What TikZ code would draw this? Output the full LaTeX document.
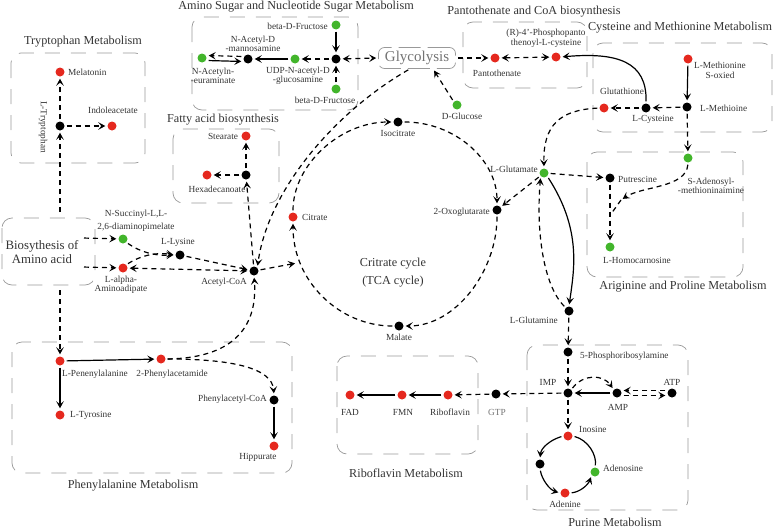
\documentclass[tikz,border=0pt]{standalone}
\usepackage{fontspec}
\setmainfont{Liberation Serif}
\usetikzlibrary{arrows.meta}
\definecolor{dotred}{RGB}{229,40,30}
\definecolor{dotgreen}{RGB}{66,181,43}

\begin{document}
\begin{tikzpicture}[x=1pt,y=-1pt]
\tikzstyle{every node}=[text=black!80,font=\fontsize{9.3}{9}\selectfont,inner sep=1pt];
\tikzstyle{metR}=[circle,fill=dotred,minimum size=9pt,inner sep=0pt];
\tikzstyle{metG}=[circle,fill=dotgreen,minimum size=9pt,inner sep=0pt];
\tikzstyle{metB}=[circle,fill=black,minimum size=9pt,inner sep=0pt];
\tikzstyle{ttl}=[font=\fontsize{12.2}{14}\selectfont];
\tikzstyle{grp}=[draw=black!40,line width=0.7pt,dash pattern=on 15pt off 11pt,rounded corners=10pt];
\tikzstyle{dsh}=[line width=1.2pt,dash pattern=on 5pt off 4pt,shorten >=2pt,shorten <=2pt,-{Stealth[length=7pt,width=7.5pt,inset=3pt]}];
\tikzstyle{sld}=[line width=1.2pt,shorten >=2pt,shorten <=2pt,-{Stealth[length=7pt,width=7.5pt,inset=3pt]}];
\tikzstyle{dbl}=[dsh,{Stealth[length=7pt,width=7.5pt,inset=3pt]}-{Stealth[length=7pt,width=7.5pt,inset=3pt]}];

\useasboundingbox (0,0) rectangle (778,530);

\draw[grp] (11,53) rectangle (145,163);
\draw[grp] (192,17) rectangle (358,110);
\draw[grp] (463,22) rectangle (587,88);
\draw[grp] (593,43) rectangle (772,132);
\draw[grp] (173,129) rectangle (279,203);
\draw[grp] (2,218) rectangle (95,285);
\draw[grp] (587,152) rectangle (743,277);
\draw[grp] (12,342) rectangle (292,473);
\draw[grp] (337,356) rectangle (478,454);
\draw[grp] (527,345) rectangle (688,510);

\node[ttl] at (83,42) {Tryptophan Metabolism};
\node[ttl] at (296,7) {Amino Sugar and Nucleotide Sugar Metabolism};
\node[ttl] at (534,12) {Pantothenate and CoA biosynthesis};
\node[ttl] at (680,28) {Cysteine and Methionine Metabolism};
\node[ttl] at (223,120) {Fatty acid biosynthesis};
\node[ttl] at (683,287) {Ariginine and Proline Metabolism};
\node[ttl] at (133,486) {Phenylalanine Metabolism};
\node[ttl] at (406,473) {Riboflavin Metabolism};
\node[ttl] at (615,522) {Purine Metabolism};
\node[align=center,font=\fontsize{12.8}{13.5}\selectfont] at (42,252) {Biosythesis of\\Amino acid};
\node[align=center,font=\fontsize{12.2}{18}\selectfont] at (393,273) {Critrate cycle\\(TCA cycle)};
\node (gly) [draw=black!40,line width=0.7pt,dash pattern=on 22pt off 7pt,rounded corners=6pt,minimum width=77pt,minimum height=21pt,text=black!55,font=\fontsize{15}{16}\selectfont] at (417,58) {Glycolysis};

\node (mel) [metR] at (60,72) {};
\node (trp) [metB] at (60,126) {};
\node (iaa) [metR] at (112,126) {};
\node (neu) [metG] at (202,58) {};
\node (man) [metB] at (248,59) {};
\node (udp) [metG] at (295,59) {};
\node (asc) [metB] at (336,59) {};
\node (frt) [metG] at (336,25) {};
\node (frb) [metG] at (336,89) {};
\node (pan) [metR] at (495,58) {};
\node (rpc) [metR] at (556,57) {};
\node (mso) [metR] at (688,59) {};
\node (met) [metB] at (687,107) {};
\node (cys) [metB] at (646,108) {};
\node (gsh) [metR] at (604,108) {};
\node (ste) [metR] at (246,136) {};
\node (hxb) [metB] at (246,175) {};
\node (hxr) [metR] at (207,175) {};
\node (suc) [metG] at (123,239) {};
\node (aad) [metR] at (123,268) {};
\node (lys) [metB] at (180,255) {};
\node (aco) [metB] at (254,271) {};
\node (cit) [metR] at (293,217) {};
\node (ict) [metB] at (398,122) {};
\node (oxg) [metB] at (497,210) {};
\node (mal) [metB] at (399,326) {};
\node (glc) [metG] at (457,105) {};
\node (glu) [metG] at (544,173) {};
\node (put) [metB] at (610,178) {};
\node (sam) [metG] at (688,158) {};
\node (hcn) [metG] at (610,247) {};
\node (gln) [metB] at (569,311) {};
\node (pra) [metB] at (568,352) {};
\node (imp) [metB] at (568,393) {};
\node (amp) [metB] at (617,393) {};
\node (atp) [metB] at (672,393) {};
\node (ino) [metR] at (568,436) {};
\node (ads) [metG] at (595,472) {};
\node (ade) [metR] at (565,493) {};
\node (unk) [metB] at (540,464) {};
\node (gtp) [metB] at (496,394) {};
\node (rib) [metR] at (448,395) {};
\node (fmn) [metR] at (402,395) {};
\node (fad) [metR] at (350,395) {};
\node (phe) [metR] at (60,361) {};
\node (pam) [metR] at (161,359) {};
\node (tyr) [metR] at (60,415) {};
\node (pac) [metB] at (274,400) {};
\node (hip) [metR] at (274,446) {};

\node[anchor=west] at (67,72) {Melatonin};
\node[rotate=-90] at (43,127) {L-Tryptophan};
\node at (113,110) {Indoleacetate};
\node[align=center] at (213,76) {N-Acetyln-\\-euraminate};
\node[align=center] at (253,44) {N-Acetyl-D\\-mannosamine};
\node[align=center] at (298,76) {UDP-N-acetyl-D\\-glucosamine};
\node[anchor=east] at (329,26) {beta-D-Fructose};
\node at (325,100) {beta-D-Fructose};
\node at (497,73) {Pantothenate};
\node[align=center,font=\fontsize{9.3}{10}\selectfont] at (546,38) {(R)-4'-Phosphopanto\\thenoyl-L-cysteine};
\node[align=center,font=\fontsize{9.3}{10}\selectfont] at (720,70) {L-Methionine\\S-oxied};
\node[anchor=west] at (699,108) {L-Methioine};
\node at (653,119) {L-Cysteine};
\node at (622,91) {Glutathione};
\node at (223,136) {Stearate};
\node at (217,189) {Hexadecanoate};
\node[anchor=west] at (301,217) {Citrate};
\node[align=center,font=\fontsize{9.3}{12.5}\selectfont] at (136,221) {N-Succinyl-L,L-\\2,6-diaminopimelate};
\node[align=center] at (121,285) {L-alpha-\\Aminoadipate};
\node at (178,242) {L-Lysine};
\node at (224,282) {Acetyl-CoA};
\node at (398,133) {Isocitrate};
\node[anchor=east] at (491,212) {2-Oxoglutarate};
\node at (399,337) {Malate};
\node at (462,116) {D-Glucose};
\node[anchor=east] at (539,169) {L-Glutamate};
\node[anchor=west] at (617,179) {Putrescine};
\node[align=center,font=\fontsize{9.3}{8.5}\selectfont] at (711,186) {S-Adenosyl-\\-methioninaimine};
\node at (637,260) {L-Homocarnosine};
\node[anchor=east] at (559,320) {L-Glutamine};
\node[anchor=west] at (579,356) {5-Phosphoribosylamine};
\node at (548,382) {IMP};
\node at (618,407) {AMP};
\node at (672,382) {ATP};
\node[anchor=west] at (578,429) {Inosine};
\node[anchor=west] at (602,468) {Adenosine};
\node at (565,504) {Adenine};
\node[text=black!55] at (497,412) {GTP};
\node at (450,412) {Riboflavin};
\node at (403,412) {FMN};
\node at (350,412) {FAD};
\node at (95,374) {L-Penenylalanine};
\node at (172,374) {2-Phenylacetamide};
\node[anchor=west] at (69,415) {L-Tyrosine};
\node[anchor=east] at (268,399) {Phenylacetyl-CoA};
\node at (258,457) {Hippurate};

\coordinate (bt) at (60,214);
\coordinate (bb) at (60,288);
\coordinate (b1) at (82,238);
\coordinate (b2) at (82,267);
\coordinate (cj) at (297,263);
\coordinate (sj) at (621,200);

\draw[dsh] (bt) -- (trp);
\draw[dsh] (trp) -- (mel);
\draw[dsh] (trp) -- (iaa);
\draw[sld] (frt) -- (asc);
\draw[dsh] (frb) -- (asc);
\draw[dsh] (asc) -- (udp);
\draw[sld] (udp) -- (man);
\draw[dsh] ([yshift=2.5pt]man.west) -- ([yshift=2.5pt]neu.east);
\draw[sld] ([yshift=-2.5pt]neu.east) -- ([yshift=-2.5pt]man.west);
\draw[dbl] (asc) -- (gly.west);
\draw[dsh] (gly.east) -- (pan);
\draw[dbl] (pan) -- (rpc);
\draw[sld] (cys.north) .. controls (647,62) and (618,52) .. (rpc.east);
\draw[dsh] (glc.north west) -- ([xshift=16pt]gly.south);
\draw[dsh] ([xshift=-7pt]gly.south) .. controls (335,112) and (268,190) .. (aco.north east);
\draw[sld] (mso) -- (met);
\draw[dsh] (met) -- (cys);
\draw[dsh] (cys) -- (gsh);
\draw[dsh] (met) -- (sam);
\draw[dsh] (gsh.west) .. controls (560,110) and (543,125) .. (glu.north);
\draw[dsh] (hxb) -- (ste);
\draw[dsh] (hxb) -- (hxr);
\draw[dsh] (aco) -- (hxb);
\draw[dsh] (b1) -- (suc);
\draw[dsh] (b2) -- (aad);
\draw[dsh] (suc.south east) .. controls (140,252) and (155,256) .. (lys.west);
\draw[dsh] (aad.north east) .. controls (140,256) and (155,252) .. (lys.west);
\draw[dbl] (aad) -- (aco);
\draw[dsh] (lys) -- (aco);
\draw[dsh] (aco) -- (cj);
\draw[dsh] (bb) -- (phe);
\draw[dsh] (cit.north) .. controls (293,165) and (340,122) .. (ict.west);
\draw[dsh] (ict.east) .. controls (455,122) and (497,160) .. (oxg.north);
\draw[dsh] (oxg.south) .. controls (497,272) and (455,326) .. (mal.east);
\draw[dsh] (mal.west) .. controls (340,326) and (293,282) .. (cit.south);
\draw[dsh] (glu) -- (put);
\draw[dsh] (glu) -- (oxg);
\draw[dsh] (put) -- (hcn);
\draw[dsh] (sam.south) .. controls (686,188) and (642,186) .. (sj);
\draw[line width=1.2pt,dash pattern=on 5pt off 4pt] (sj) -- (611,214);
\draw[sld] (glu.south east) .. controls (582,230) and (574,270) .. (gln.north);
\draw[dsh] (gln.north west) .. controls (543,285) and (536,230) .. (glu.south west);
\draw[dsh] (gln) -- (pra);
\draw[dsh] (pra) -- (imp);
\draw[dsh] (imp) -- (ino);
\draw[sld] (amp) -- (imp);
\draw[dsh] (imp.north east) .. controls (583,374) and (603,374) .. (amp.north west);
\draw[dsh] ([yshift=2.5pt]atp.west) -- ([yshift=2.5pt]amp.east);
\draw[dsh] ([yshift=-2.5pt]amp.east) -- ([yshift=-2.5pt]atp.west);
\draw[line width=1.2pt,shorten <=2pt,shorten >=2pt] (ino.east) .. controls (588,440) and (597,455) .. (ads.north);
\draw[sld] (ino.west) .. controls (550,440) and (541,448) .. (unk.north);
\draw[sld] (unk.south) .. controls (542,480) and (550,490) .. (ade.west);
\draw[sld] (ade.east) .. controls (580,492) and (588,485) .. (ads.south west);
\draw[dsh] (imp) -- (gtp);
\draw[dsh] (gtp) -- (rib);
\draw[sld] (rib) -- (fmn);
\draw[sld] (fmn) -- (fad);
\draw[sld] (phe) -- (pam);
\draw[sld] (phe) -- (tyr);
\draw[dsh] (pam.east) .. controls (232,359) and (272,368) .. (pac.north);
\draw[dsh] (pam.east) .. controls (230,358) and (258,330) .. (aco.south);
\draw[sld] (pac) -- (hip);
\end{tikzpicture}
\end{document}
